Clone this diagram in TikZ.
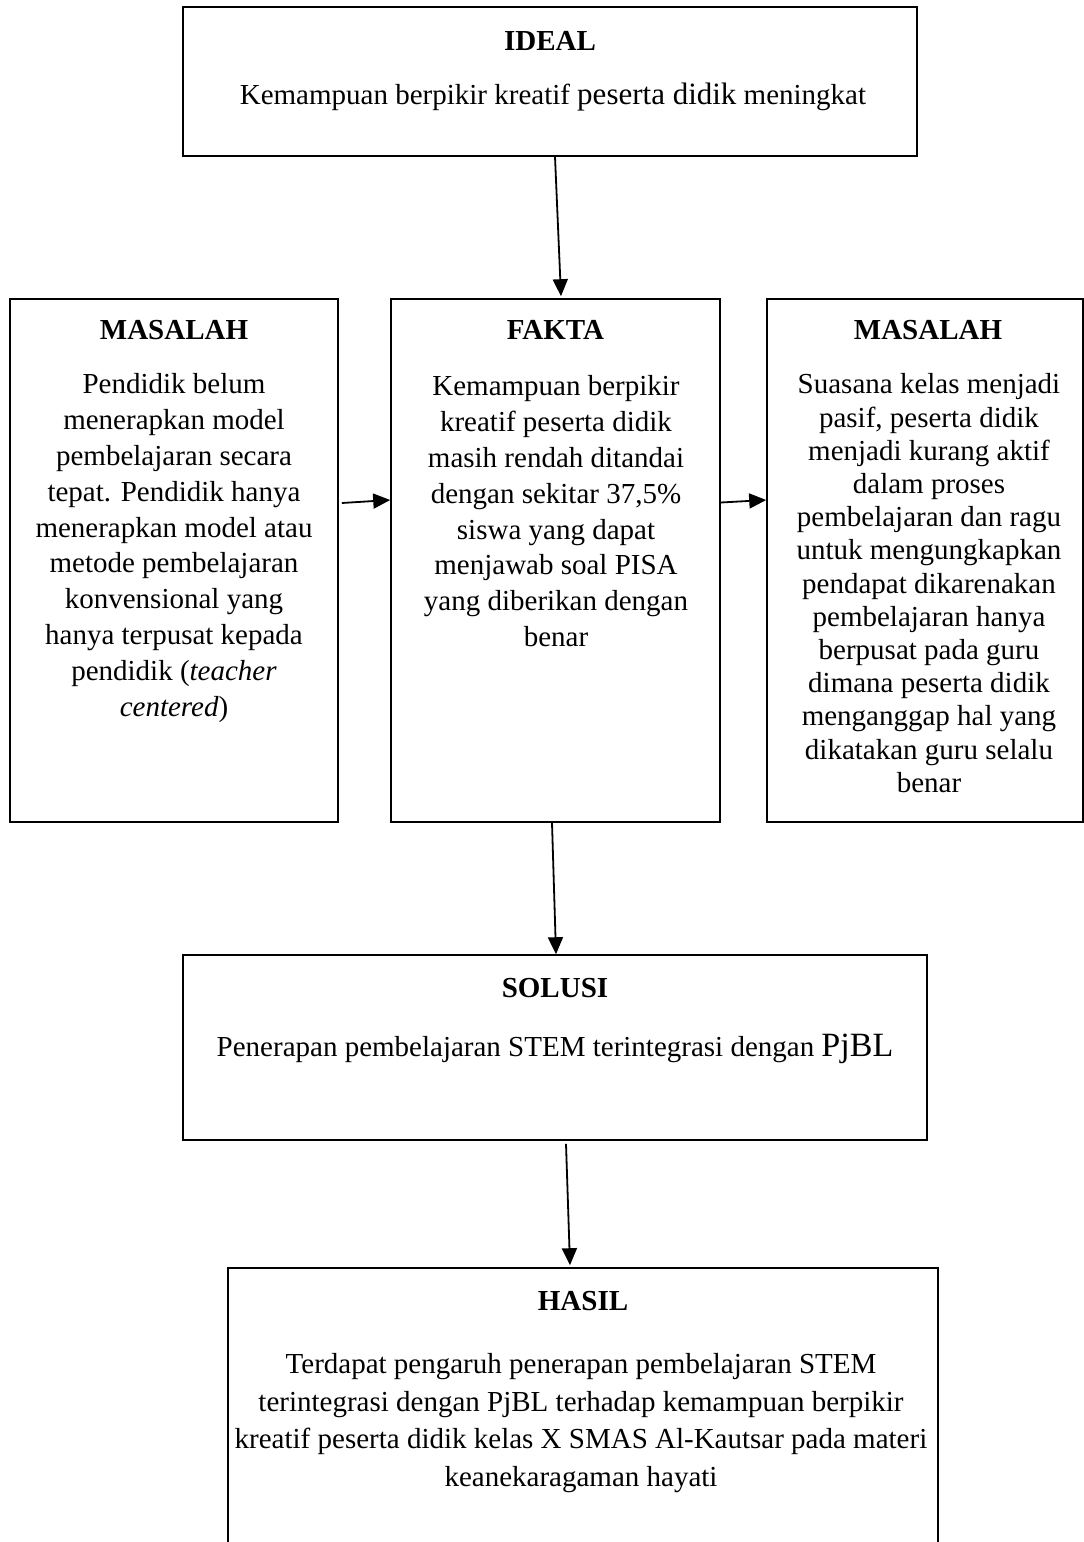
\documentclass[tikz,border=0pt]{standalone}
\usepackage{fontspec}
\setmainfont{Liberation Serif}
\usepackage{tikz}
\usetikzlibrary{arrows.meta}

\tikzset{
  kotak/.style={draw, line width=1.6pt, inner sep=0pt},
  judul/.style={anchor=base, inner sep=0pt, font=\bfseries\fontsize{29}{35}\selectfont},
  isi/.style={anchor=north, inner sep=0pt, align=center, font=\fontsize{29}{35.8}\selectfont},
  panah/.style={line width=1.8pt, -{Triangle[length=17pt,width=15pt]}}
}

\begin{document}
\begin{tikzpicture}[x=1pt,y=-1pt]
\useasboundingbox (0,0) rectangle (1084,1542);
\node [kotak, minimum width=734pt, minimum height=149pt] (ideal) at (550,81.5) {};
\node [judul] (idealjudul) at (550,50) {IDEAL};
\node [isi, anchor=base] (idealisi) at (553,104) {Kemampuan berpikir kreatif {\fontsize{31}{36}\selectfont peserta didik} meningkat};
\node [kotak, minimum width=328pt, minimum height=523pt] (kiri) at (174,560.5) {};
\node [judul] (kirijudul) at (174,339) {MASALAH};
\node [isi] (kiriisi) at (174,373.5) {Pendidik belum\\ menerapkan model\\ pembelajaran secara\\ tepat. Pendidik hanya\\ menerapkan model atau\\ metode pembelajaran\\ konvensional yang\\ hanya terpusat kepada\\ pendidik (\textit{teacher}\\ \textit{centered})};
\node [kotak, minimum width=329pt, minimum height=523pt] (fakta) at (555.5,560.5) {};
\node [judul] (faktajudul) at (555.5,339) {FAKTA};
\node [isi] (faktaisi) at (556,375.5) {Kemampuan berpikir\\ kreatif peserta didik\\ masih rendah ditandai\\ dengan sekitar 37,5\%\\ siswa yang dapat\\ menjawab soal PISA\\ yang diberikan dengan\\ benar};
\node [kotak, minimum width=316pt, minimum height=523pt] (kanan) at (925,560.5) {};
\node [judul] (kananjudul) at (928,339) {MASALAH};
\node [isi, font=\fontsize{29}{33.2}\selectfont] (kananisi) at (929,373.5) {Suasana kelas menjadi\\ pasif, peserta didik\\ menjadi kurang aktif\\ dalam proses\\ pembelajaran dan ragu\\ untuk mengungkapkan\\ pendapat dikarenakan\\ pembelajaran hanya\\ berpusat pada guru\\ dimana peserta didik\\ menganggap hal yang\\ dikatakan guru selalu\\ benar};
\node [kotak, minimum width=744pt, minimum height=185pt] (solusi) at (555,1047.5) {};
\node [judul] (solusijudul) at (555,997) {SOLUSI};
\node [isi, anchor=base] (solusiisi) at (555,1056) {Penerapan pembelajaran STEM terintegrasi dengan {\fontsize{34}{38}\selectfont PjBL}};
\node [kotak, minimum width=710pt, minimum height=302pt] (hasil) at (583,1419) {};
\node [judul] (hasiljudul) at (583,1310) {HASIL};
\node [isi, font=\fontsize{29}{37.5}\selectfont] (hasilisi) at (581,1353.5) {Terdapat pengaruh penerapan pembelajaran STEM\\ terintegrasi dengan PjBL terhadap kemampuan berpikir\\ kreatif peserta didik kelas X SMAS Al-Kautsar pada materi\\ keanekaragaman hayati};
\draw [panah] ([xshift=5pt]ideal.south) -- ([xshift=5.5pt,yshift=2pt]fakta.north);
\draw [panah] ([xshift=3pt,yshift=57.5pt]kiri.east) -- ([yshift=60.5pt]fakta.west);
\draw [panah] ([yshift=58pt]fakta.east) -- ([yshift=60.5pt]kanan.west);
\draw [panah] ([xshift=-3.5pt]fakta.south) -- ([xshift=1pt]solusi.north);
\draw [panah] ([xshift=11pt,yshift=-3pt]solusi.south) -- ([xshift=-13pt,yshift=2pt]hasil.north);
\end{tikzpicture}
\end{document}
